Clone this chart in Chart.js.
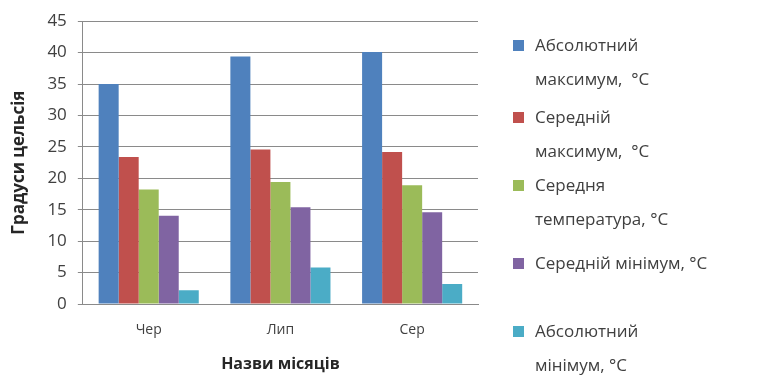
<!DOCTYPE html>
<html>
<head>
<meta charset="utf-8">
<script src="https://cdn.jsdelivr.net/npm/chart.js@4"></script>
<style>
  body { margin: 0; background: #fff; }
  #wrap { position: relative; width: 763px; height: 376px; }
  #legend { position: absolute; left: 513px; top: 28px; font-family: "Open Sans", sans-serif; font-size: 17px; color: #404040; }
  .item { position: absolute; left: 0; width: 250px; line-height: 34px; }
  .box { position: absolute; left: 0; top: 12px; width: 11px; height: 11px; }
  .txt { margin-left: 22px; white-space: pre; }
</style>
</head>
<body>
<div id="wrap">
  <canvas id="tempChart" width="763" height="376"></canvas>
  <div id="legend"></div>
</div>
<script>
// Temperature chart
const months = ['Чер', 'Лип', 'Сер'];
const seriesNames = [
    ['Абсолютний', 'максимум,  °C'],
    ['Середній', 'максимум,  °C'],
    ['Середня', 'температура, °C'],
    ['Середній мінімум, °C'],
    ['Абсолютний', 'мінімум, °C']
];
const absMax = [35.0, 39.4, 40.1];
const avgMax = [23.4, 24.6, 24.2];
const avgTemp = [18.2, 19.4, 18.9];
const avgMin = [14.05, 15.4, 14.6];
const absMin = [2.2, 5.8, 3.2];
const yTicks = [0, 5, 10, 15, 20, 25, 30, 35, 40, 45];

const colors = ['#4F81BD', '#C0504D', '#9BBB59', '#8064A2', '#4BACC6'];
const values = [absMax, avgMax, avgTemp, avgMin, absMin];

const ctx = document.getElementById('tempChart').getContext('2d');
const tempChart = new Chart(ctx, {
    type: 'bar',
    data: {
        labels: months,
        datasets: values.map((v, i) => ({
            label: seriesNames[i].join(' '),
            data: v,
            backgroundColor: colors[i],
            borderWidth: 0,
            categoryPercentage: 0.76,
            barPercentage: 1
        }))
    },
    options: {
        responsive: false,
        animation: false,
        layout: { padding: { top: 17, right: 285, bottom: 2, left: 9 } },
        plugins: {
            legend: { display: false },
            tooltip: { enabled: false }
        },
        scales: {
            x: {
                grid: { display: false },
                border: { color: '#8a8a8a', width: 1 },
                ticks: { color: '#404040', font: { family: 'Open Sans', size: 14 }, padding: 10 },
                title: {
                    display: true,
                    text: 'Назви місяців',
                    color: '#262626',
                    font: { family: 'Open Sans', size: 16, weight: 'bold' },
                    padding: { top: 6, bottom: 0 }
                }
            },
            y: {
                min: 0,
                max: 45,
                afterBuildTicks: (axis) => { axis.ticks = yTicks.map(v => ({ value: v })); },
                grid: { color: '#8a8a8a', tickLength: 5 },
                border: { color: '#8a8a8a', width: 1 },
                ticks: { color: '#404040', font: { family: 'Open Sans', size: 17 }, padding: 11 },
                title: {
                    display: true,
                    text: 'Градуси цельсія',
                    color: '#262626',
                    font: { family: 'Open Sans', size: 17, weight: 'bold' },
                    padding: { top: 0, bottom: 7 }
                }
            }
        }
    }
});

// Legend
const legendTops = [0, 72, 140, 218, 286];
const legend = document.getElementById('legend');
seriesNames.forEach((lines, i) => {
    const item = document.createElement('div');
    item.className = 'item';
    item.style.top = legendTops[i] + 'px';
    const box = document.createElement('div');
    box.className = 'box';
    box.style.background = colors[i];
    const txt = document.createElement('div');
    txt.className = 'txt';
    txt.textContent = lines.join('\n');
    item.appendChild(box);
    item.appendChild(txt);
    legend.appendChild(item);
});
</script>
</body>
</html>
